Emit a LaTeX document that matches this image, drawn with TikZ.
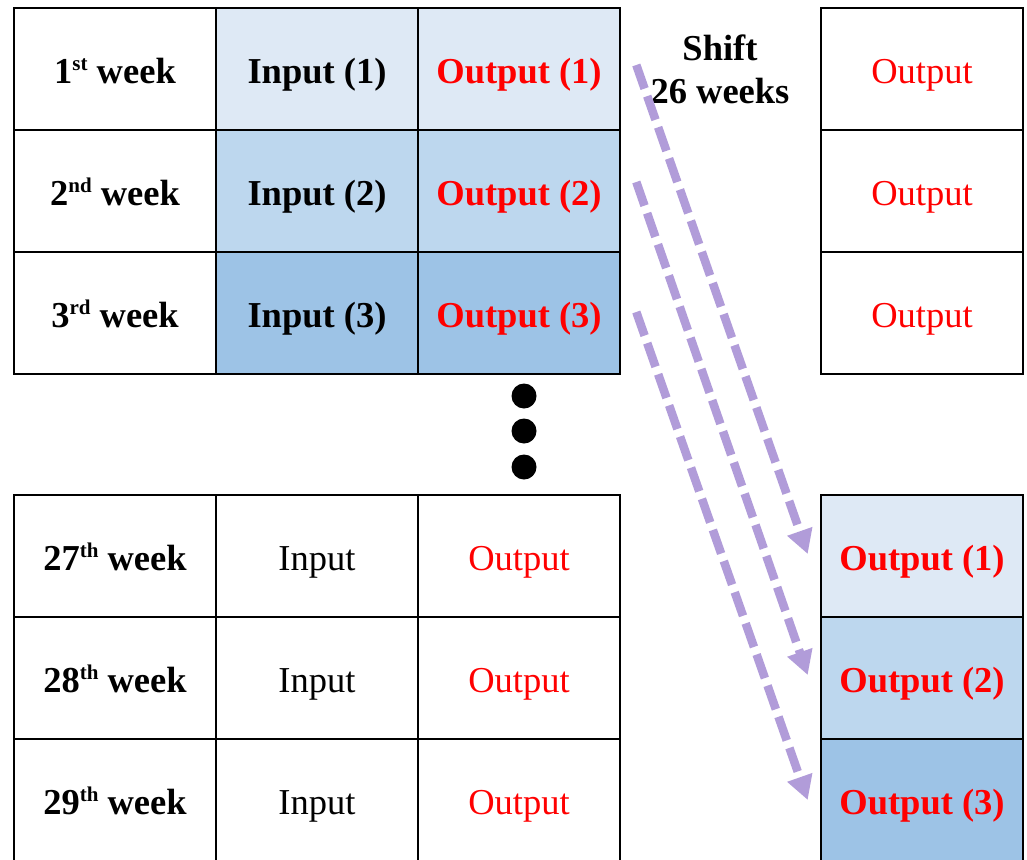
\documentclass[tikz,border=0pt]{standalone}
\usepackage{fontspec}
\setmainfont{Liberation Serif}
\usetikzlibrary{arrows.meta}
\definecolor{blueA}{RGB}{222,233,245}
\definecolor{blueB}{RGB}{189,215,238}
\definecolor{blueC}{RGB}{157,195,230}
\definecolor{shiftc}{RGB}{177,156,217}
\definecolor{outred}{RGB}{255,0,0}
% ordinal suffix, raised and set small
\newcommand{\ordsuf}[1]{\raisebox{13pt}{\fontsize{21}{21}\selectfont #1}}
\tikzset{
  cell/.style={draw=black, line width=2.6pt, minimum width=202pt, minimum height=122pt,
    inner sep=0pt, text height=31pt, text depth=2pt, font=\fontsize{36.5}{44}\selectfont},
  boldtxt/.style={font=\fontsize{36.5}{44}\selectfont\bfseries},
  redtxt/.style={text=outred},
  shiftarrow/.style={draw=shiftc, line width=8.5pt, dash pattern=on 25pt off 8pt,
    -{Triangle[length=24pt,width=25pt]}},
  dot/.style={circle, fill=black, minimum size=25pt, inner sep=0pt}
}
\begin{document}
\begin{tikzpicture}[x=1pt,y=-1pt]
\clip (0,0) rectangle (1027,859);
\useasboundingbox (0,0) rectangle (1027,859);
\fill[white] (0,0) rectangle (1027,859);

% upper block: weeks 1-3
\node[cell, boldtxt] (w1) at (115,69) {1\ordsuf{st} week};
\node[cell, boldtxt] (w2) at (115,191) {2\ordsuf{nd} week};
\node[cell, boldtxt] (w3) at (115,313) {3\ordsuf{rd} week};
\node[cell, boldtxt, fill=blueA] (i1) at (317,69) {Input (1)};
\node[cell, boldtxt, fill=blueB] (i2) at (317,191) {Input (2)};
\node[cell, boldtxt, fill=blueC] (i3) at (317,313) {Input (3)};
\node[cell, boldtxt, redtxt, fill=blueA] (o1) at (519,69) {Output (1)};
\node[cell, boldtxt, redtxt, fill=blueB] (o2) at (519,191) {Output (2)};
\node[cell, boldtxt, redtxt, fill=blueC] (o3) at (519,313) {Output (3)};

% lower block: weeks 27-29
\node[cell, boldtxt] (w27) at (115,556) {27\ordsuf{th} week};
\node[cell, boldtxt] (w28) at (115,678) {28\ordsuf{th} week};
\node[cell, boldtxt] (w29) at (115,800) {29\ordsuf{th} week};
\node[cell] (i27) at (317,556) {Input};
\node[cell] (i28) at (317,678) {Input};
\node[cell] (i29) at (317,800) {Input};
\node[cell, redtxt] (o27) at (519,556) {Output};
\node[cell, redtxt] (o28) at (519,678) {Output};
\node[cell, redtxt] (o29) at (519,800) {Output};

% right-hand output column
\node[cell, redtxt] (r1) at (922,69) {Output};
\node[cell, redtxt] (r2) at (922,191) {Output};
\node[cell, redtxt] (r3) at (922,313) {Output};
\node[cell, boldtxt, redtxt, fill=blueA] (s1) at (922,556) {Output (1)};
\node[cell, boldtxt, redtxt, fill=blueB] (s2) at (922,678) {Output (2)};
\node[cell, boldtxt, redtxt, fill=blueC] (s3) at (922,800) {Output (3)};

% vertical ellipsis
\node[dot] (d1) at (524,396) {};
\node[dot] (d2) at (524,431) {};
\node[dot] (d3) at (524,467) {};

% shift label
\node[align=center, font=\fontsize{36.5}{43}\selectfont\bfseries, inner sep=0pt] (shift) at (720,69) {Shift\\26 weeks};

% shift arrows
\draw[shiftarrow] ([xshift=15pt,yshift=4pt]o1.east) -- ([xshift=-12pt,yshift=2pt]s1.west);
\draw[shiftarrow] ([xshift=15pt,yshift=9pt]o2.east) -- ([xshift=-12pt,yshift=3pt]s2.west);
\draw[shiftarrow] ([xshift=15pt,yshift=1pt]o3.east) -- ([xshift=-12pt,yshift=0pt]s3.west);
\end{tikzpicture}
\end{document}
